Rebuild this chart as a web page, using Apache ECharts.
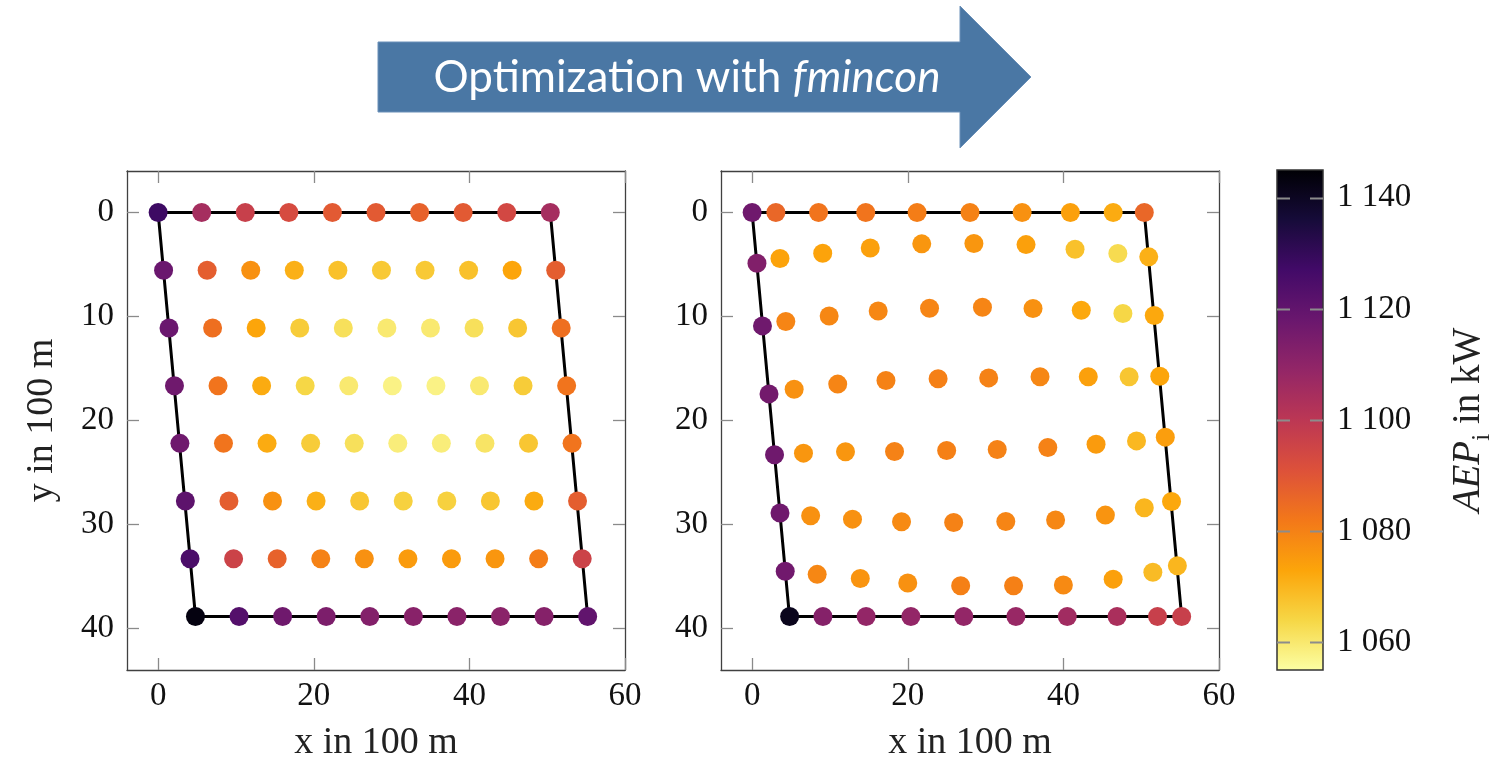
<!DOCTYPE html>
<html><head><meta charset="utf-8">
<script src="https://cdn.jsdelivr.net/npm/echarts@6/dist/echarts.min.js"></script>
<style>html,body{margin:0;padding:0;background:#fff}#c{width:1497px;height:763px}</style>
</head><body><div id="c"></div>
<script>
// ---------- data ----------
const xTicks = [0, 20, 40, 60];
const yTicks = [0, 10, 20, 30, 40];
const cbTicks = [1060, 1080, 1100, 1120, 1140];
const cbRange = [1055, 1145];

// site boundary polygon (x, y in 100 m)
const boundaryX = [0, 50.4, 55.2, 4.8, 0];
const boundaryY = [0, 0, 38.85, 38.85, 0];

// initial layout (left), rows of 10
const initialX = [
  0, 5.6, 11.2, 16.8, 22.4, 28.0, 33.6, 39.2, 44.8, 50.4,
  0.7, 6.3, 11.9, 17.5, 23.1, 28.7, 34.3, 39.9, 45.5, 51.1,
  1.4, 7.0, 12.6, 18.2, 23.8, 29.4, 35.0, 40.6, 46.2, 51.8,
  2.1, 7.7, 13.3, 18.9, 24.5, 30.1, 35.7, 41.3, 46.9, 52.5,
  2.8, 8.4, 14.0, 19.6, 25.2, 30.8, 36.4, 42.0, 47.6, 53.2,
  3.5, 9.1, 14.7, 20.3, 25.9, 31.5, 37.1, 42.7, 48.3, 53.9,
  4.1, 9.7, 15.3, 20.9, 26.5, 32.1, 37.7, 43.3, 48.9, 54.5,
  4.8, 10.4, 16.0, 21.6, 27.2, 32.8, 38.4, 44.0, 49.6, 55.2
];
const initialY = [
  0, 0, 0, 0, 0, 0, 0, 0, 0, 0,
  5.55, 5.55, 5.55, 5.55, 5.55, 5.55, 5.55, 5.55, 5.55, 5.55,
  11.1, 11.1, 11.1, 11.1, 11.1, 11.1, 11.1, 11.1, 11.1, 11.1,
  16.65, 16.65, 16.65, 16.65, 16.65, 16.65, 16.65, 16.65, 16.65, 16.65,
  22.2, 22.2, 22.2, 22.2, 22.2, 22.2, 22.2, 22.2, 22.2, 22.2,
  27.75, 27.75, 27.75, 27.75, 27.75, 27.75, 27.75, 27.75, 27.75, 27.75,
  33.3, 33.3, 33.3, 33.3, 33.3, 33.3, 33.3, 33.3, 33.3, 33.3,
  38.85, 38.85, 38.85, 38.85, 38.85, 38.85, 38.85, 38.85, 38.85, 38.85
];
const initialAEP = [
  1128, 1105, 1097, 1093, 1089, 1089, 1087, 1089, 1094, 1105,
  1118, 1088, 1077, 1071, 1068, 1066.5, 1066.5, 1068, 1073, 1088,
  1118, 1084, 1073, 1066, 1062, 1060, 1060, 1062, 1067, 1084,
  1117, 1083, 1072, 1064, 1060, 1058, 1058, 1060, 1066, 1083,
  1117, 1083, 1072, 1066, 1062, 1059, 1059, 1061, 1067, 1083,
  1121, 1088, 1077, 1071, 1067, 1065, 1065, 1067, 1072, 1088,
  1125, 1096, 1087, 1080, 1077, 1075, 1075, 1076, 1081, 1096,
  1143, 1123, 1117, 1114, 1112.5, 1111.5, 1111, 1111, 1112, 1120
];

// optimized layout (right), rows of 10
const optimizedX = [
  0, 3.05, 8.54, 14.6, 21.2, 28.0, 34.7, 40.9, 46.4, 50.4,
  0.62, 3.58, 9.07, 15.18, 21.8, 28.5, 35.2, 41.5, 47.0, 50.97,
  1.33, 4.33, 9.9, 16.2, 22.8, 29.6, 36.1, 42.3, 47.65, 51.68,
  2.17, 5.4, 11.0, 17.2, 23.9, 30.4, 37.0, 43.2, 48.45, 52.39,
  2.88, 6.6, 12.0, 18.3, 25.0, 31.5, 38.0, 44.2, 49.4, 53.1,
  3.58, 7.52, 12.9, 19.2, 25.9, 32.6, 39.0, 45.4, 50.4, 53.9,
  4.25, 8.36, 13.9, 20.0, 26.8, 33.6, 40.0, 46.4, 51.5, 54.65,
  4.82, 9.1, 14.65, 20.4, 27.2, 33.9, 40.5, 46.9, 52.1, 55.2
];
const optimizedY = [
  0, 0, 0, 0, 0, 0, 0, 0, 0, 0,
  4.87, 4.42, 3.91, 3.40, 3.01, 2.98, 3.08, 3.53, 3.94, 4.26,
  10.9, 10.48, 9.94, 9.46, 9.2, 9.1, 9.23, 9.39, 9.71, 9.9,
  17.44, 16.99, 16.5, 16.15, 15.99, 15.9, 15.8, 15.8, 15.8, 15.74,
  23.3, 23.14, 23.0, 22.98, 22.88, 22.79, 22.6, 22.28, 21.96, 21.6,
  28.9, 29.17, 29.49, 29.74, 29.81, 29.71, 29.58, 29.1, 28.4, 27.8,
  34.5, 34.8, 35.2, 35.64, 35.9, 35.9, 35.83, 35.26, 34.6, 33.97,
  38.85, 38.85, 38.85, 38.85, 38.85, 38.85, 38.85, 38.85, 38.85, 38.85
];
const optimizedAEP = [
  1117, 1086, 1083, 1083, 1081, 1080, 1077, 1074, 1072, 1086,
  1113, 1073.5, 1073.5, 1074, 1076, 1076, 1074, 1068, 1063, 1071,
  1117, 1079.5, 1079, 1079, 1079.5, 1079.5, 1077, 1072.5, 1064, 1072.5,
  1116, 1077, 1079.5, 1080, 1080.5, 1080, 1079, 1074, 1067, 1073,
  1117, 1076, 1076, 1080, 1080.5, 1080, 1080, 1075, 1069.5, 1074.5,
  1117, 1077, 1077, 1078.5, 1080, 1079.5, 1079, 1076.5, 1070, 1072.5,
  1116.5, 1079, 1076.5, 1077, 1080.5, 1080.5, 1078.5, 1074, 1069, 1070,
  1141, 1112, 1109, 1109, 1109, 1108, 1106, 1104, 1097, 1097
];

// inferno colormap (dark -> light)
const inferno = ['#000004', '#160b39', '#420a68', '#6a176e', '#932667', '#bc3754',
                 '#dd513a', '#f37819', '#fca50a', '#f6d746', '#fcffa4'];

// ---------- build ----------
const zip = (xs, ys, vs) => xs.map((x, i) => vs ? [x, ys[i], vs[i]] : [x, ys[i]]);
const SERIF = 'Liberation Serif';
const TXT = '#111';
const frame = { show: true, onZero: false, lineStyle: { color: '#404040', width: 1.3 } };
const tick = (vals) => ({ show: true, inside: true, length: 12, customValues: vals, lineStyle: { color: '#8a8a8a', width: 1.3 } });
const nameStyle = { fontFamily: SERIF, fontSize: 38, color: '#222' };

function xAxes(grid) {
  return [
    { type: 'value', gridIndex: grid, position: 'bottom', min: -4, max: 60,
      axisLine: frame, axisTick: tick(xTicks), splitLine: { show: false },
      axisLabel: { customValues: xTicks, margin: 10, fontFamily: SERIF, fontSize: 33, color: TXT },
      name: 'x in 100 m', nameLocation: 'middle', nameGap: 54, nameTextStyle: nameStyle },
    { type: 'value', gridIndex: grid, position: 'top', min: -4, max: 60,
      axisLine: frame, axisTick: tick(xTicks), splitLine: { show: false }, axisLabel: { show: false } }
  ];
}
function yAxes(grid, withName) {
  return [
    { type: 'value', gridIndex: grid, position: 'left', min: -4, max: 44, inverse: true,
      axisLine: frame, axisTick: tick(yTicks), splitLine: { show: false },
      axisLabel: { customValues: yTicks, margin: 13, fontFamily: SERIF, fontSize: 33, color: TXT },
      name: withName ? 'y in 100 m' : '', nameLocation: 'middle', nameGap: 66, nameRotate: 90,
      nameTextStyle: nameStyle },
    { type: 'value', gridIndex: grid, position: 'right', min: -4, max: 44, inverse: true,
      axisLine: frame, axisTick: tick(yTicks), splitLine: { show: false }, axisLabel: { show: false } }
  ];
}

const cbStops = inferno.map((c, i) => ({ offset: i / (inferno.length - 1), color: c }));

const option = {
  backgroundColor: '#fff',
  animation: false,
  grid: [
    { left: 127, top: 171, width: 498, height: 499, outerBoundsMode: 'none' },
    { left: 721, top: 171, width: 498, height: 499, outerBoundsMode: 'none' },
    { left: 1277, top: 170, width: 46, height: 500, outerBoundsMode: 'none' }
  ],
  xAxis: [
    ...xAxes(0), ...xAxes(1),
    { type: 'value', gridIndex: 2, min: 0, max: 1, show: false }
  ],
  yAxis: [
    ...yAxes(0, true), ...yAxes(1, false),
    { type: 'value', gridIndex: 2, position: 'right', min: cbRange[0], max: cbRange[1],
      axisLine: { show: false, onZero: false }, splitLine: { show: false }, axisTick: { show: false },
      axisLabel: { customValues: cbTicks, margin: 14, fontFamily: SERIF, fontSize: 33, color: TXT,
                   formatter: v => String(v).replace(/^(\d)(\d{3})$/, '$1 $2') },
      name: '{it|AEP}{sub|i}{n| in kW}', nameLocation: 'middle', nameRotate: 90, nameGap: 120,
      nameTextStyle: { fontFamily: SERIF, fontSize: 39, color: '#222',
        rich: {
          it: { fontFamily: SERIF, fontSize: 39, fontStyle: 'italic', color: '#222', lineHeight: 52, verticalAlign: 'middle' },
          n: { fontFamily: SERIF, fontSize: 39, color: '#222', lineHeight: 52, verticalAlign: 'middle' },
          sub: { fontFamily: SERIF, fontSize: 25, color: '#222', lineHeight: 24, verticalAlign: 'bottom' }
        } } }
  ],
  visualMap: {
    type: 'continuous', show: false, min: cbRange[0], max: cbRange[1], dimension: 2,
    seriesIndex: [1, 3], inRange: { color: inferno.slice().reverse() }
  },
  series: [
    { type: 'line', xAxisIndex: 0, yAxisIndex: 0, data: zip(boundaryX, boundaryY), symbol: 'none',
      lineStyle: { color: '#000', width: 3 }, z: 2 },
    { type: 'scatter', xAxisIndex: 0, yAxisIndex: 0, data: zip(initialX, initialY, initialAEP), symbolSize: 19, z: 3,
      itemStyle: { opacity: 1 } },
    { type: 'line', xAxisIndex: 2, yAxisIndex: 2, data: zip(boundaryX, boundaryY), symbol: 'none',
      lineStyle: { color: '#000', width: 3 }, z: 2 },
    { type: 'scatter', xAxisIndex: 2, yAxisIndex: 2, data: zip(optimizedX, optimizedY, optimizedAEP), symbolSize: 19, z: 3,
      itemStyle: { opacity: 1 } },
    { type: 'custom', xAxisIndex: 4, yAxisIndex: 4, z: 1, data: [[cbRange[0], cbRange[1]]], clip: false,
      renderItem: function (params, api) {
        const tl = api.coord([0, api.value(1)]);
        const br = api.coord([1, api.value(0)]);
        const children = [{ type: 'rect', z2: 1, shape: { x: tl[0], y: tl[1], width: br[0] - tl[0], height: br[1] - tl[1] },
          style: { fill: new echarts.graphic.LinearGradient(0, 0, 0, 1, cbStops), stroke: '#333', lineWidth: 1.5 } }];
        cbTicks.forEach(v => {
          const y = Math.round(api.coord([0, v])[1]) + 0.5;
          children.push({ type: 'line', z2: 10, shape: { x1: tl[0], y1: y, x2: tl[0] + 13, y2: y },
                          style: { stroke: '#8c8c8c', lineWidth: 2, fill: null } });
          children.push({ type: 'line', z2: 10, shape: { x1: br[0] - 13, y1: y, x2: br[0], y2: y },
                          style: { stroke: '#8c8c8c', lineWidth: 2, fill: null } });
        });
        return { type: 'group', children: children };
      } }
  ],
  graphic: [
    { type: 'polygon', shape: { points: [[378, 42], [960, 42], [960, 6], [1031, 77], [960, 148], [960, 112], [378, 112]] },
      style: { fill: '#4a77a4', stroke: '#6b90b8', lineWidth: 1 } },
    { type: 'text', x: 687, y: 78,
      style: { text: '{n|Optimization with }{i|fmincon}', align: 'center', verticalAlign: 'middle',
        rich: { n: { fontFamily: 'Lato', fontSize: 44, fill: '#fff', color: '#fff' },
                i: { fontFamily: 'Lato', fontSize: 44, fontStyle: 'italic', fill: '#fff', color: '#fff' } } } }
  ]
};

const chart = echarts.init(document.getElementById('c'), null, { renderer: 'canvas' });
chart.setOption(option);
</script></body></html>
